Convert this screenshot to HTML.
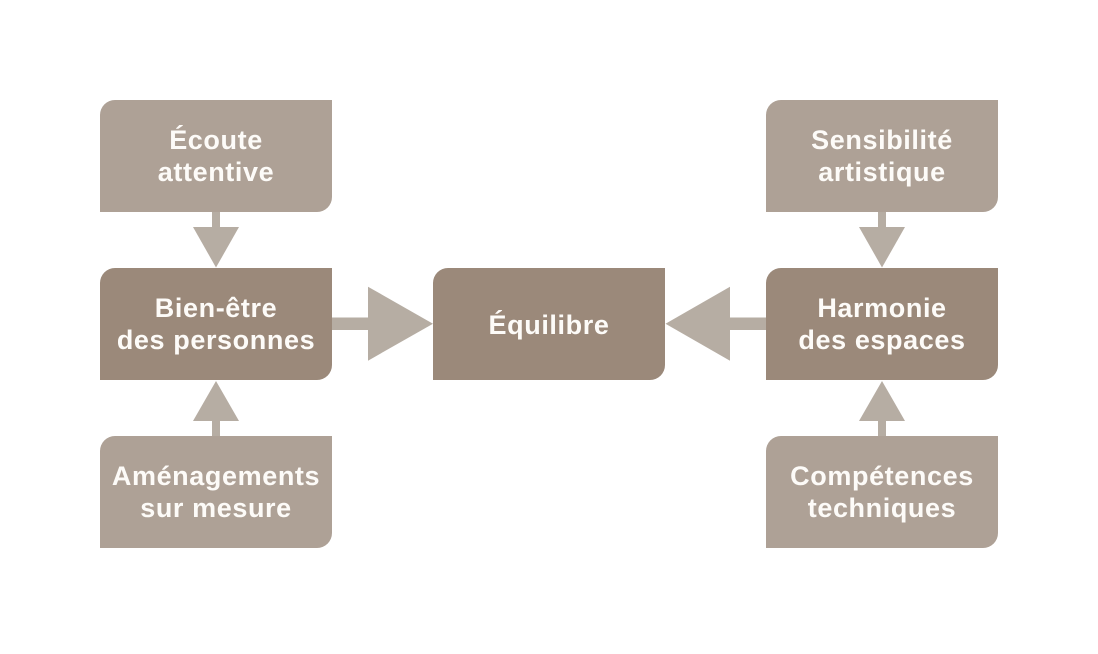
<!DOCTYPE html>
<html>
<head>
<meta charset="utf-8">
<style>
  html, body { margin:0; padding:0; background:#ffffff; }
  body { width:1098px; height:649px; overflow:hidden; }
  svg text { font-family: "Liberation Sans", "DejaVu Sans", sans-serif; font-weight:700; font-size:27px; fill:#FDFBF8; letter-spacing:0.6px; }
</style>
</head>
<body>
<svg width="1098" height="649" viewBox="0 0 1098 649" xmlns="http://www.w3.org/2000/svg">
  <g fill="#B6ADA3">
    <rect x="212" y="211" width="8" height="17"/>
    <polygon points="193,227 239,227 216,267.5"/>
    <rect x="212" y="420" width="8" height="17"/>
    <polygon points="193,421 239,421 216,381"/>
    <rect x="878" y="211" width="8" height="17"/>
    <polygon points="859,227 905,227 882,267.5"/>
    <rect x="878" y="420" width="8" height="17"/>
    <polygon points="859,421 905,421 882,381"/>
    <rect x="331" y="317.5" width="38" height="12.5"/>
    <polygon points="368,286.7 368,360.7 433,323.7"/>
    <rect x="729" y="317.5" width="38" height="12.5"/>
    <polygon points="730,286.7 730,360.7 665.5,323.7"/>
  </g>

  <g fill="#AEA196">
    <path d="M100,115 A15,15 0 0 1 115,100 L332,100 L332,197 A15,15 0 0 1 317,212 L100,212 Z"/>
    <path d="M100,451 A15,15 0 0 1 115,436 L332,436 L332,533 A15,15 0 0 1 317,548 L100,548 Z"/>
    <path d="M766,115 A15,15 0 0 1 781,100 L998,100 L998,197 A15,15 0 0 1 983,212 L766,212 Z"/>
    <path d="M766,451 A15,15 0 0 1 781,436 L998,436 L998,533 A15,15 0 0 1 983,548 L766,548 Z"/>
  </g>
  <g fill="#9B897A">
    <path d="M100,283 A15,15 0 0 1 115,268 L332,268 L332,365 A15,15 0 0 1 317,380 L100,380 Z"/>
    <path d="M433,283 A15,15 0 0 1 448,268 L665,268 L665,365 A15,15 0 0 1 650,380 L433,380 Z"/>
    <path d="M766,283 A15,15 0 0 1 781,268 L998,268 L998,365 A15,15 0 0 1 983,380 L766,380 Z"/>
  </g>

  <g text-anchor="middle">
    <text x="216" y="149">Écoute</text>
    <text x="216" y="181">attentive</text>

    <text x="216" y="317">Bien-être</text>
    <text x="216" y="349">des personnes</text>

    <text x="216" y="485">Aménagements</text>
    <text x="216" y="517">sur mesure</text>

    <text x="549" y="334">Équilibre</text>

    <text x="882" y="149">Sensibilité</text>
    <text x="882" y="181">artistique</text>

    <text x="882" y="317">Harmonie</text>
    <text x="882" y="349">des espaces</text>

    <text x="882" y="485">Compétences</text>
    <text x="882" y="517">techniques</text>
  </g>
</svg>
</body>
</html>
